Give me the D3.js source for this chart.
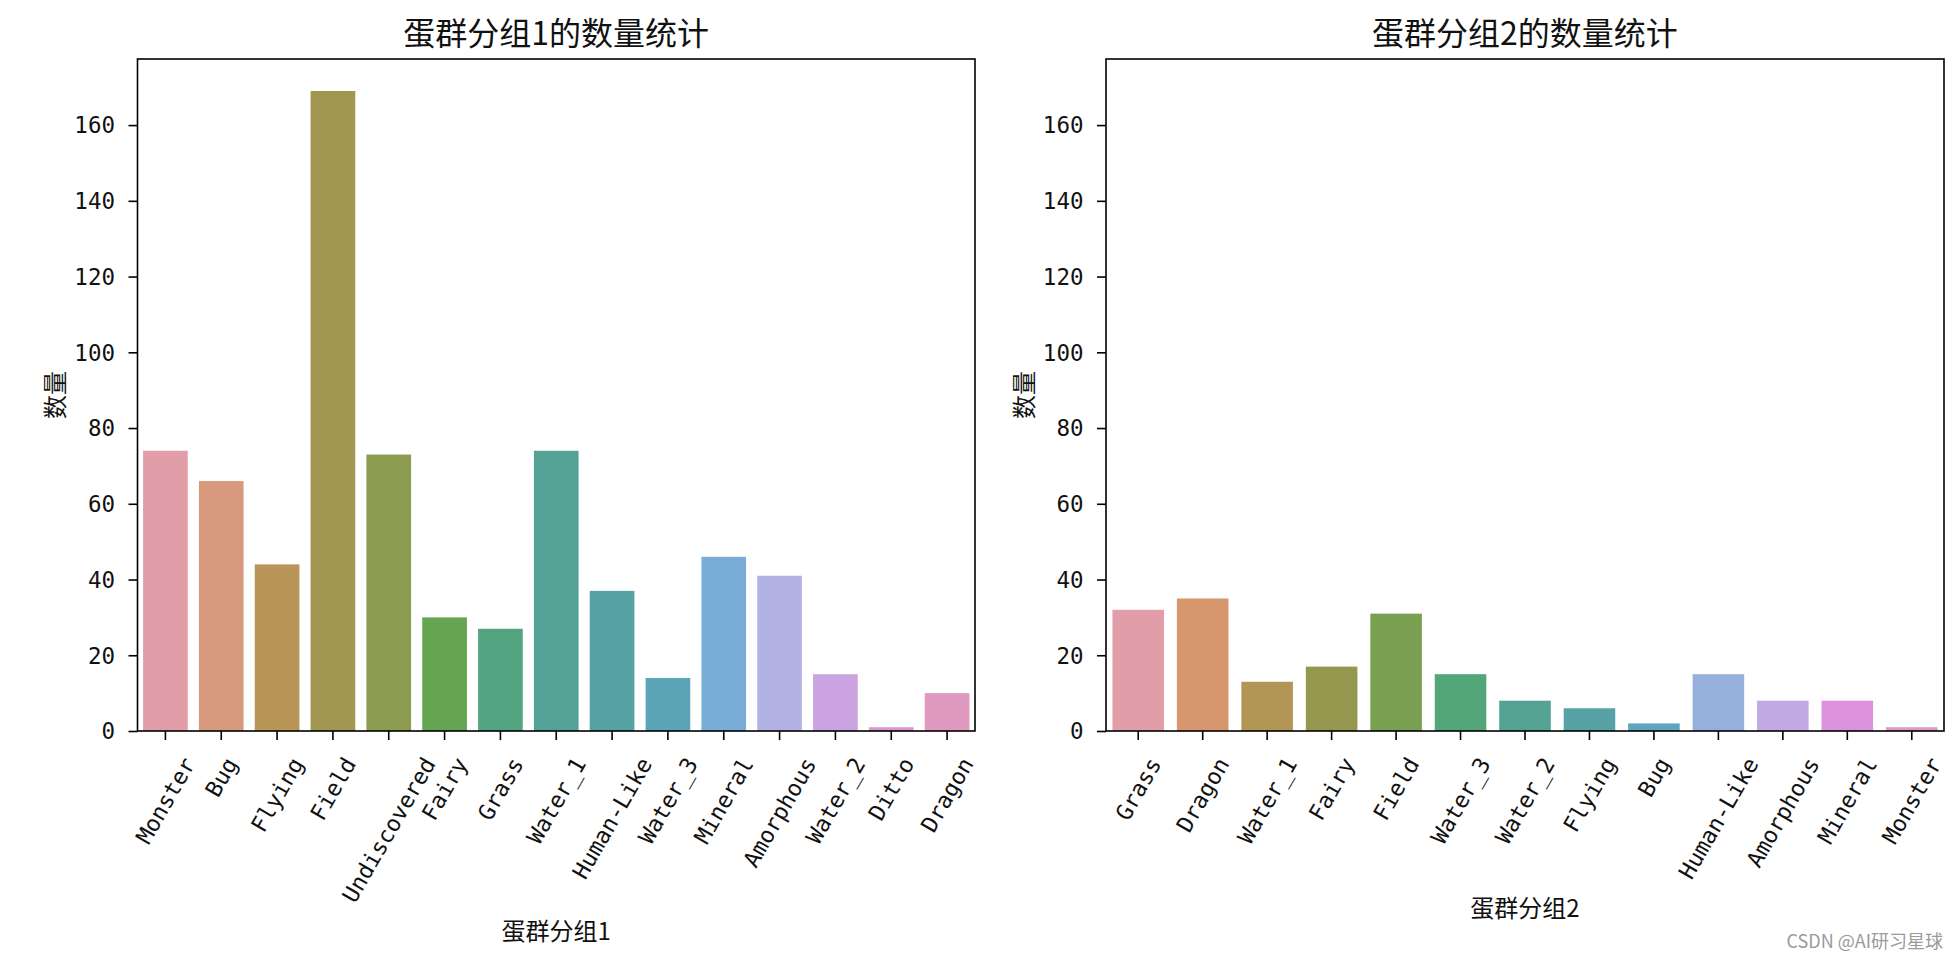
<!DOCTYPE html>
<html><head><meta charset="utf-8">
<script src="https://cdn.jsdelivr.net/npm/d3@7"></script>
<style>body{margin:0;background:#fff} svg{display:block}</style>
</head><body>
<svg id="chart" width="1960" height="958"></svg>
<script>
// ---- data ----
const categories1 = ["Monster","Bug","Flying","Field","Undiscovered","Fairy","Grass","Water_1","Human-Like","Water_3","Mineral","Amorphous","Water_2","Ditto","Dragon"];
const values1 = [74,66,44,169,73,30,27,74,37,14,46,41,15,1,10];
const categories2 = ["Grass","Dragon","Water_1","Fairy","Field","Water_3","Water_2","Flying","Bug","Human-Like","Amorphous","Mineral","Monster"];
const values2 = [32,35,13,17,31,15,8,6,2,15,8,8,1];
const yTicks = [0,20,40,60,80,100,120,140,160];
const titles = ["蛋群分组1的数量统计","蛋群分组2的数量统计"];
const xLabels = ["蛋群分组1","蛋群分组2"];
const yLabel = "数量";
const watermark = "CSDN @AI研习星球";

// ---- seaborn husl palette ----
const HM=[[3.2406,-1.5372,-0.4986],[-0.9689,1.8758,0.0415],[0.0557,-0.2040,1.0570]];
function maxChroma(L,H){
  const hr=H*Math.PI/180, sinH=Math.sin(hr), cosH=Math.cos(hr);
  const sub1=Math.pow(L+16,3)/1560896; const sub2 = sub1>0.008856?sub1:L/903.3;
  let result=Infinity;
  for(const [m1,m2,m3] of HM){
    const tp=(0.99915*m1+1.05122*m2+1.14460*m3)*sub2;
    const rb=0.86330*m3-0.17266*m2, lb=0.12949*m3-0.38848*m1;
    const bt=(rb*sinH+lb*cosH)*sub2;
    for(const t of [0,1]){
      const C=L*(tp-1.05122*t)/(bt+0.17266*sinH*t);
      if(C>0 && C<result) result=C;
    }
  }
  return result;
}
function huslToRgb(H,S,L){
  const C = maxChroma(L,H)/100*S;
  const hr=H*Math.PI/180; const U=Math.cos(hr)*C, V=Math.sin(hr)*C;
  const t=(L+16)/116; const varY = Math.pow(t,3)>0.008856?Math.pow(t,3):(116*t-16)/903.3;
  const varU=U/(13*L)+0.19784, varV=V/(13*L)+0.46834;
  const Y=varY; const X=-(9*Y*varU)/((varU-4)*varV-varU*varV); const Z=(9*Y-15*varV*Y-varV*X)/(3*varV);
  return HM.map(r=>{ let c=r[0]*X+r[1]*Y+r[2]*Z; c = c<=0.0031308?12.92*c:1.055*Math.pow(c,1/2.4)-0.055; return Math.min(1,Math.max(0,c)); });
}
function palette(n){
  const out=[];
  for(let i=0;i<n;i++){
    const h=((i/n)+0.01)%1*359;
    const [r,g,b]=huslToRgb(h,89.1,69.3);
    const c=d3.hsl(d3.rgb(r*255,g*255,b*255)); c.s*=0.6; out.push(c.formatHex());
  }
  return out;
}

// ---- drawing ----
const svg = d3.select("#chart");
svg.append("rect").attr("width",1960).attr("height",958).attr("fill","#fff");
const CJK = "'Noto Sans CJK SC','Noto Sans',sans-serif";
const TICKF = "'DejaVu Sans Mono','Liberation Mono',monospace";
const plotTop = 59, plotBottom = 731;
const yMax = d3.max(values1)*1.05;
const y = d3.scaleLinear().domain([0,yMax]).range([plotBottom,plotTop]);

const panels = [
  {cats:categories1, vals:values1, title:titles[0], xlabel:xLabels[0], x0:137.5, x1:975},
  {cats:categories2, vals:values2, title:titles[1], xlabel:xLabels[1], x0:1106, x1:1944}
];

panels.forEach(p=>{
  const g = svg.append("g");
  const x = d3.scaleBand().domain(p.cats).range([p.x0,p.x1]).paddingInner(0.2).paddingOuter(0.1);
  const cols = palette(p.cats.length);
  g.selectAll("rect.bar").data(p.cats).join("rect").attr("class","bar")
    .attr("x", d=>x(d)).attr("width", x.bandwidth())
    .attr("y", (d,i)=>y(p.vals[i])).attr("height",(d,i)=>plotBottom-y(p.vals[i]))
    .attr("fill",(d,i)=>cols[i]);

  // y axis
  const ya = g.append("g").attr("transform",`translate(${p.x0},0)`)
    .call(d3.axisLeft(y).tickValues(yTicks).tickSize(9).tickSizeOuter(0).tickPadding(13.5));
  ya.select(".domain").remove();
  ya.selectAll(".tick line").attr("stroke","#000").attr("stroke-width",1.6);
  ya.selectAll(".tick text").attr("font-family",TICKF).attr("font-size",22.5).attr("fill","#111").attr("dy","0.35em");

  // x axis
  const xa = g.append("g").attr("transform",`translate(0,${plotBottom})`)
    .call(d3.axisBottom(x).tickSize(9).tickSizeOuter(0));
  xa.select(".domain").remove();
  xa.selectAll(".tick line").attr("stroke","#000").attr("stroke-width",1.6);
  const fs = 22.5, s60 = Math.sin(Math.PI/3), c60 = Math.cos(Math.PI/3);
  let maxB = 0;
  xa.selectAll(".tick text")
    .attr("font-family",TICKF).attr("font-size",fs).attr("fill","#111")
    .attr("x",0).attr("y",0).attr("dy",null)
    .attr("text-anchor","middle").attr("dominant-baseline","central")
    .each(function(){
      const L = this.getComputedTextLength();
      const Hb = L*s60 + fs*0.8*c60;
      maxB = Math.max(maxB, 24 + Hb);
      d3.select(this).attr("transform",`translate(0,${24+Hb/2}) rotate(-60)`);
    });

  // frame
  g.append("rect").attr("x",p.x0).attr("y",plotTop).attr("width",p.x1-p.x0).attr("height",plotBottom-plotTop)
    .attr("fill","none").attr("stroke","#000").attr("stroke-width",1.6);

  // titles & labels
  const cx = (p.x0+p.x1)/2;
  g.append("text").attr("x",cx).attr("y",31).attr("text-anchor","middle").attr("dominant-baseline","central")
    .attr("font-family",CJK).attr("font-size",32).attr("fill","#111").text(p.title);
  g.append("text").attr("x",cx).attr("y",plotBottom+maxB+25).attr("text-anchor","middle").attr("dominant-baseline","central")
    .attr("font-family",CJK).attr("font-size",24).attr("fill","#111").text(p.xlabel);
  g.append("text").attr("transform",`translate(${p.x0-84},${(plotTop+plotBottom)/2}) rotate(-90)`)
    .attr("text-anchor","middle").attr("dominant-baseline","central")
    .attr("font-family",CJK).attr("font-size",24).attr("fill","#111").text(yLabel);
});

svg.append("text").attr("x",1943).attr("y",940).attr("text-anchor","end").attr("dominant-baseline","central")
  .attr("font-family",CJK).attr("font-size",18).attr("fill","#9a9a9a").text(watermark);
</script>
</body></html>
